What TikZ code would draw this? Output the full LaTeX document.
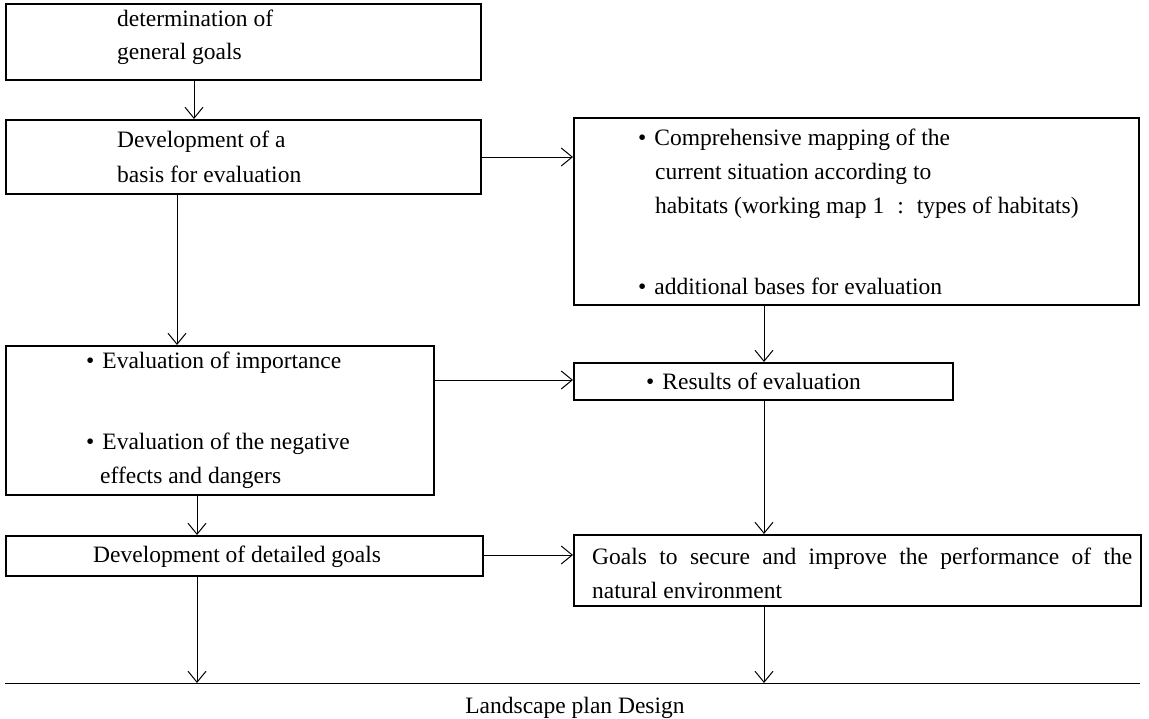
\documentclass[tikz,border=0pt]{standalone}
\usepackage{fontspec}
\setmainfont{Liberation Serif}
\usetikzlibrary{arrows.meta}
\begin{document}
\begin{tikzpicture}[x=1pt,y=-1pt,
  box/.style={draw, line width=1.8pt, anchor=north west, inner sep=0pt, rectangle},
  txt/.style={anchor=base west, inner sep=0pt, font=\fontsize{23.5}{28}\selectfont},
  arr/.style={line width=1pt, -{Straight Barb[length=11pt,width=18pt,line width=1pt]}},
  conn/.style={line width=1pt}]
\useasboundingbox (0,0) rectangle (1149,718);
\fill[white] (0,0) rectangle (1149,718);
% boxes
\node[box, minimum width=475pt, minimum height=76pt] (b1) at (5,3) {};
\node[box, minimum width=475pt, minimum height=74pt] (b2) at (5,119) {};
\node[box, minimum width=565pt, minimum height=187pt] (b3) at (573,117) {};
\node[box, minimum width=428pt, minimum height=149pt] (b4) at (5,345) {};
\node[box, minimum width=379pt, minimum height=37pt] (b5) at (573,362) {};
\node[box, minimum width=477pt, minimum height=40pt] (b7) at (5,535) {};
\node[box, minimum width=567pt, minimum height=71pt] (b6) at (573,534) {};
% texts
\node[txt] (t1a) at (117,26) {determination of};
\node[txt] (t1b) at (117,59) {general goals};
\node[txt] (t2a) at (117,147) {Development of a};
\node[txt] (t2b) at (117,182) {basis for evaluation};
\node[txt] (t3a) at (638,145) {•\hspace{8pt}Comprehensive mapping of the};
\node[txt] (t3b) at (655,179) {current situation according to};
\node[txt] (t3c) at (655,213) {habitats (working map 1\hspace{13pt}:\hspace{13pt}types of habitats)};
\node[txt] (t3d) at (638,294) {•\hspace{8pt}additional bases for evaluation};
\node[txt] (t4a) at (86,368) {•\hspace{8pt}Evaluation of importance};
\node[txt] (t4b) at (86,449) {•\hspace{8pt}Evaluation of the negative};
\node[txt] (t4c) at (100,483) {effects and dangers};
\node[txt] (t5) at (646,389) {•\hspace{8pt}Results of evaluation};
\node[txt] (t7) at (93,562) {Development of detailed goals};
\node[txt] (t6a) at (592,564) {\makebox[540pt][s]{Goals to secure and improve the performance of the}};
\node[txt] (t6b) at (592,598) {natural environment};
\node[anchor=base, inner sep=0pt, font=\fontsize{23.5}{28}\selectfont] (tl) at (575,713) {Landscape plan Design};
% helper coordinates
\coordinate (cA) at (194,0);
\coordinate (cB) at (177,0);
\coordinate (cC) at (197,0);
\coordinate (cD) at (764,0);
\coordinate (r1) at (0,157);
\coordinate (r2) at (0,380);
\coordinate (r3) at (0,555);
\coordinate (lineL) at (5,683);
\coordinate (lineR) at (1140,683);
% base line
\draw[conn] (lineL) -- (lineR);
% connectors
\draw[arr] (b1.south -| cA) -- (b2.north -| cA);
\draw[arr] (b2.east |- r1) -- (b3.west |- r1);
\draw[arr] (b2.south -| cB) -- (b4.north -| cB);
\draw[arr] (b4.east |- r2) -- (b5.west |- r2);
\draw[arr] (b3.south -| cD) -- (b5.north -| cD);
\draw[arr] (b5.south -| cD) -- (b6.north -| cD);
\draw[arr] (b4.south -| cC) -- (b7.north -| cC);
\draw[arr] (b7.east |- r3) -- (b6.west |- r3);
\draw[arr] (b7.south -| cC) -- (lineL -| cC);
\draw[arr] (b6.south -| cD) -- (lineL -| cD);
\end{tikzpicture}
\end{document}
